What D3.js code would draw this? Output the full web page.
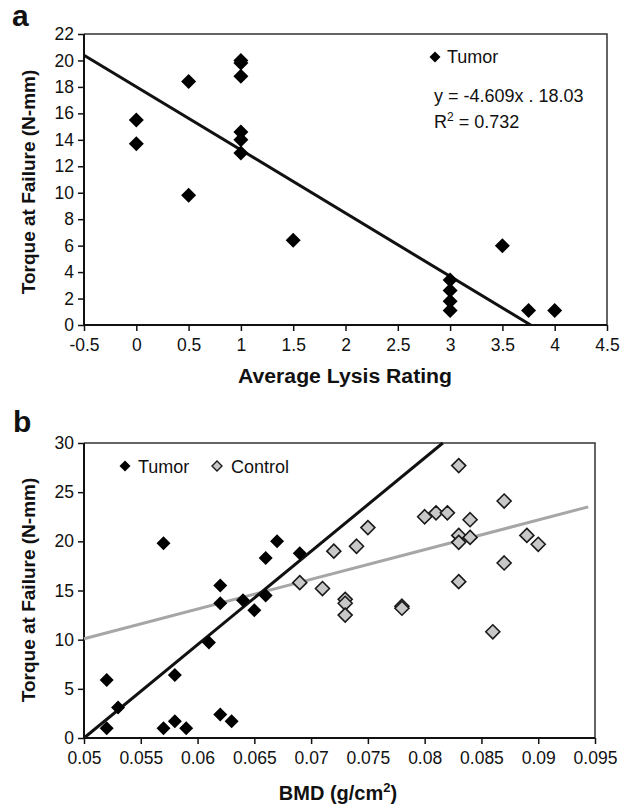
<!DOCTYPE html>
<html>
<head>
<meta charset="utf-8">
<script src="https://cdn.jsdelivr.net/npm/d3@7"></script>
<style>
  body { margin: 0; background: #fff; }
  svg text { font-family: "Liberation Sans", Arial, sans-serif; fill: #111; }
</style>
</head>
<body>
<svg id="chart" width="632" height="810"></svg>
<script>
// ---- panel a : torque vs lysis rating ----
const lysisRating = [0, 0, 0.5, 0.5, 1, 1, 1, 1, 1, 1, 1.5, 3, 3, 3, 3, 3.5, 3.75, 4];
const lysisTorque = [15.5, 13.7, 18.4, 9.8, 20.0, 19.8, 18.8, 14.6, 14.0, 13.0, 6.4, 3.4, 2.6, 1.8, 1.1, 6.0, 1.1, 1.1];
const lysisFit = [[-0.5, 20.4], [3.77, 0]];
const lysisTicksX = [-0.5, 0, 0.5, 1, 1.5, 2, 2.5, 3, 3.5, 4, 4.5];
const lysisTicksY = [0, 2, 4, 6, 8, 10, 12, 14, 16, 18, 20, 22];

// ---- panel b : torque vs BMD ----
const tumorBmd = [0.052, 0.052, 0.053, 0.057, 0.057, 0.058, 0.058, 0.059, 0.061, 0.062, 0.062, 0.062, 0.063, 0.064, 0.065, 0.066, 0.066, 0.067, 0.069];
const tumorTorque = [5.9, 1.0, 3.1, 19.8, 1.0, 6.4, 1.7, 1.0, 9.7, 15.5, 13.7, 2.4, 1.7, 14.0, 13.0, 14.5, 18.3, 20.0, 18.8];
const controlBmd = [0.069, 0.071, 0.072, 0.073, 0.073, 0.073, 0.074, 0.075, 0.078, 0.078, 0.080, 0.081, 0.082, 0.083, 0.084, 0.083, 0.083, 0.084, 0.083, 0.086, 0.087, 0.087, 0.089, 0.090];
const controlTorque = [15.8, 15.2, 19.0, 14.1, 13.7, 12.5, 19.5, 21.4, 13.4, 13.2, 22.5, 22.9, 22.9, 27.7, 22.2, 20.6, 19.9, 20.4, 15.9, 10.8, 24.1, 17.8, 20.6, 19.7];
const tumorFit = [[0.05, 0], [0.0816, 30]];
const controlFit = [[0.05, 10.1], [0.0944, 23.5]];
const bmdTicksX = [0.05, 0.055, 0.06, 0.065, 0.07, 0.075, 0.08, 0.085, 0.09, 0.095];
const bmdTicksY = [0, 5, 10, 15, 20, 25, 30];

const svg = d3.select("#chart");

function diamondPath(half) {
    // square diamond with given half-diagonal
    return `M0,${-half}L${half},0L0,${half}L${-half},0Z`;
}

function drawFrame(g, x, y, xTicks, yTicks, fmtX) {
    const [x0, x1] = x.range();
    const [y0, y1] = y.range();

    // top / right border
    g.append("path")
        .attr("d", `M${x0},${y1}H${x1}V${y0}`)
        .attr("fill", "none")
        .attr("stroke", "#333")
        .attr("stroke-width", 1.5);

    const ax = g.append("g")
        .attr("transform", `translate(0,${y0})`)
        .call(d3.axisBottom(x).tickValues(xTicks).tickSize(6).tickPadding(8).tickFormat(fmtX));
    const ay = g.append("g")
        .attr("transform", `translate(${x0},0)`)
        .call(d3.axisLeft(y).tickValues(yTicks).tickSize(6).tickPadding(4).tickFormat(d => d));

    [ax, ay].forEach(a => {
        a.select(".domain").attr("stroke", "#111").attr("stroke-width", 2);
        a.selectAll(".tick line").attr("stroke", "#111").attr("stroke-width", 1.5);
        a.selectAll(".tick text")
            .attr("font-size", "17.5px")
            .attr("font-family", "Liberation Sans, Arial, sans-serif")
            .attr("fill", "#222");
    });
    ax.select(".domain").attr("d", `M${x0},0H${x1}`);
    ay.select(".domain").attr("d", `M0,${y0}V${y1}`);
}

// ================= panel a =================
{
    const x = d3.scaleLinear().domain([-0.5, 4.5]).range([84, 607]);
    const y = d3.scaleLinear().domain([0, 22]).range([325, 34]);
    const g = svg.append("g");

    drawFrame(g, x, y, lysisTicksX, lysisTicksY, d => d);

    g.append("path")
        .datum(lysisFit)
        .attr("d", d3.line().x(d => x(d[0])).y(d => y(d[1])))
        .attr("stroke", "#111")
        .attr("stroke-width", 3)
        .attr("fill", "none");

    g.selectAll(".pt")
        .data(lysisRating.map((v, i) => [v, lysisTorque[i]]))
        .enter()
        .append("path")
        .attr("transform", d => `translate(${x(d[0])},${y(d[1])})`)
        .attr("d", diamondPath(7.5))
        .attr("fill", "#000");

    // legend + equation
    g.append("path").attr("transform", "translate(435,57)").attr("d", diamondPath(5.5)).attr("fill", "#000");
    g.append("text").attr("x", 447).attr("y", 63).attr("font-size", "18px").text("Tumor");
    g.append("text").attr("x", 434).attr("y", 102).attr("font-size", "18px").text("y = -4.609x . 18.03");
    const r2 = g.append("text").attr("x", 434).attr("y", 128).attr("font-size", "18px");
    r2.append("tspan").text("R");
    r2.append("tspan").attr("font-size", "12px").attr("dy", -7).text("2");
    r2.append("tspan").attr("dy", 7).text(" = 0.732");

    g.append("text")
        .attr("x", 345).attr("y", 383)
        .attr("text-anchor", "middle")
        .attr("font-size", "20px").attr("font-weight", "bold")
        .attr("textLength", 214).attr("lengthAdjust", "spacingAndGlyphs")
        .text("Average Lysis Rating");
    g.append("text")
        .attr("transform", "translate(35,182) rotate(-90)")
        .attr("text-anchor", "middle")
        .attr("font-size", "19px").attr("font-weight", "bold")
        .text("Torque at Failure (N-mm)");
    g.append("text")
        .attr("x", 12).attr("y", 26)
        .attr("font-size", "30px").attr("font-weight", "bold")
        .text("a");
}

// ================= panel b =================
{
    const x = d3.scaleLinear().domain([0.05, 0.095]).range([84, 595]);
    const y = d3.scaleLinear().domain([0, 30]).range([738, 443]);
    const g = svg.append("g");

    drawFrame(g, x, y, bmdTicksX, bmdTicksY, d => String(d));

    const line = d3.line().x(d => x(d[0])).y(d => y(d[1]));
    g.append("path").datum(controlFit).attr("d", line)
        .attr("stroke", "#a6a6a6").attr("stroke-width", 3).attr("fill", "none");
    g.append("path").datum(tumorFit).attr("d", line)
        .attr("stroke", "#111").attr("stroke-width", 3).attr("fill", "none");

    g.selectAll(".ctrl")
        .data(controlBmd.map((v, i) => [v, controlTorque[i]]))
        .enter()
        .append("path")
        .attr("transform", d => `translate(${x(d[0])},${y(d[1])})`)
        .attr("d", diamondPath(7))
        .attr("fill", "#c8c8c8")
        .attr("stroke", "#1a1a1a")
        .attr("stroke-width", 1.6);

    g.selectAll(".tum")
        .data(tumorBmd.map((v, i) => [v, tumorTorque[i]]))
        .enter()
        .append("path")
        .attr("transform", d => `translate(${x(d[0])},${y(d[1])})`)
        .attr("d", diamondPath(7))
        .attr("fill", "#000");

    // legend
    g.append("path").attr("transform", "translate(125,466)").attr("d", diamondPath(5.5)).attr("fill", "#000");
    g.append("text").attr("x", 138).attr("y", 473).attr("font-size", "18px").text("Tumor");
    g.append("path").attr("transform", "translate(217,466)").attr("d", diamondPath(5))
        .attr("fill", "#c8c8c8").attr("stroke", "#1a1a1a").attr("stroke-width", 1.4);
    g.append("text").attr("x", 231).attr("y", 473).attr("font-size", "18px").text("Control");

    const bt = g.append("text")
        .attr("x", 338).attr("y", 800)
        .attr("text-anchor", "middle")
        .attr("font-size", "20px").attr("font-weight", "bold");
    bt.append("tspan").text("BMD (g/cm");
    bt.append("tspan").attr("font-size", "13px").attr("dy", -8).text("2");
    bt.append("tspan").attr("dy", 8).text(")");

    g.append("text")
        .attr("transform", "translate(35,590) rotate(-90)")
        .attr("text-anchor", "middle")
        .attr("font-size", "19px").attr("font-weight", "bold")
        .text("Torque at Failure (N-mm)");
    g.append("text")
        .attr("x", 13).attr("y", 432)
        .attr("font-size", "30px").attr("font-weight", "bold")
        .text("b");
}
</script>
</body>
</html>
